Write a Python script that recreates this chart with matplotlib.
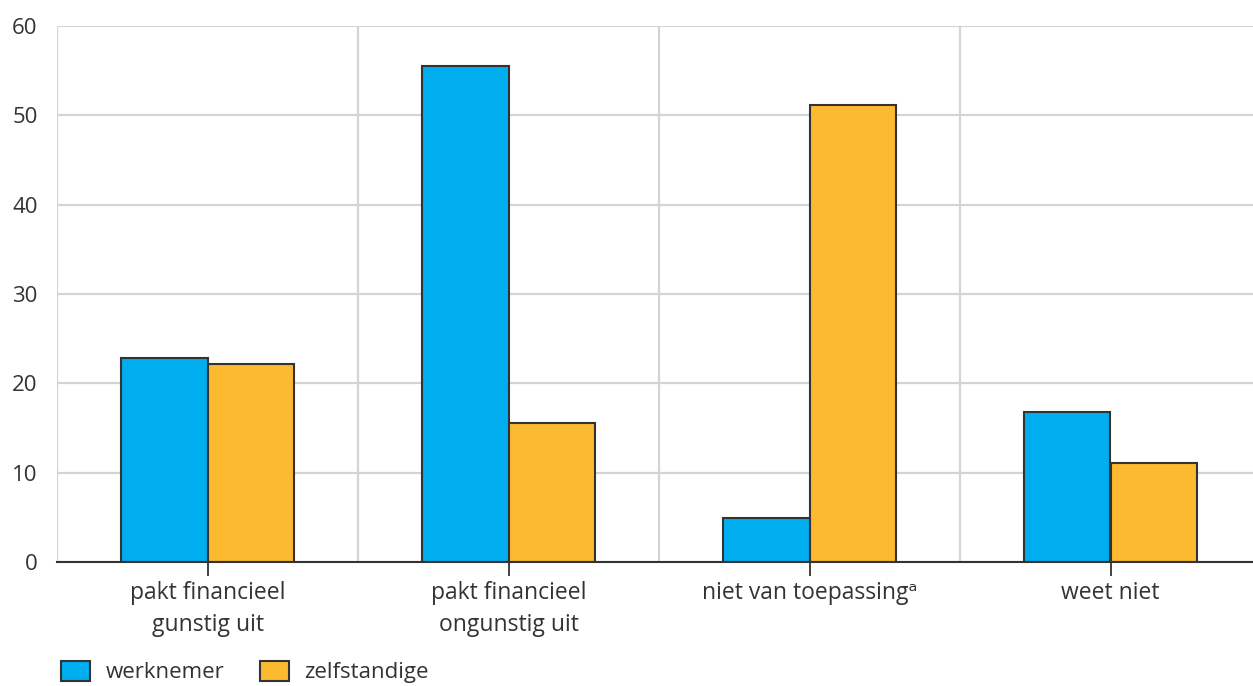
import matplotlib.pyplot as plt
import numpy as np

categories = ["pakt financieel\ngunstig uit", "pakt financieel\nongunstig uit",
              "niet van toepassing\u1d43", "weet niet"]
werknemer = [22.8, 55.5, 4.9, 16.8]
zelfstandige = [22.2, 15.6, 51.2, 11.1]
series_names = ["werknemer", "zelfstandige"]
yticks = [0, 10, 20, 30, 40, 50, 60]

blue = "#00AEEF"
orange = "#FBBA30"
dark = "#333333"
grid = "#d4d4d4"

plt.rcParams["font.family"] = ["Open Sans", "DejaVu Sans"]

fig = plt.figure(figsize=(12.53, 6.86), dpi=100)
ax = fig.add_axes([57 / 1253, 1 - 562 / 686, 1 - 57 / 1253, (562 - 26) / 686])

x = np.arange(len(categories))
w = 0.288
b1 = ax.bar(x - w / 2, werknemer, w, color=blue, edgecolor=dark, linewidth=1.5,
            label=series_names[0], zorder=3)
b2 = ax.bar(x + w / 2, zelfstandige, w, color=orange, edgecolor=dark, linewidth=1.5,
            label=series_names[1], zorder=3)

ax.set_xlim(-0.5, -0.5 + (1253 - 57) / 301)
ax.set_ylim(0, 60)
ax.set_yticks(yticks)
ax.set_yticklabels([str(v) for v in yticks])
ax.set_xticks(x)
ax.set_xticklabels(categories, color=dark, fontsize=16.5, linespacing=1.4)

# horizontal grid and category separators
ax.grid(axis="y", color=grid, linewidth=1.6, zorder=0)
for sep in np.arange(-0.5, len(categories), 1.0):
    ax.axvline(sep, color=grid, linewidth=1.6, zorder=0)

for s in ["top", "right", "left"]:
    ax.spines[s].set_visible(False)
ax.spines["bottom"].set_color(dark)
ax.spines["bottom"].set_linewidth(1.5)
ax.spines["bottom"].set_zorder(4)

ax.tick_params(axis="x", length=10, width=1.3, color=dark, pad=4)
ax.tick_params(axis="y", length=0, pad=14, labelsize=16, labelcolor=dark)
for lbl in ax.get_yticklabels():
    lbl.set_verticalalignment("center_baseline")

fig.legend(handles=[b1, b2], labels=series_names, loc="upper left",
           bbox_to_anchor=(52 / 1253, 1 - 652 / 686), ncol=2, frameon=False,
           fontsize=16, handlelength=1.3, handleheight=1.0, columnspacing=1.6,
           handletextpad=0.7, labelcolor=dark, borderaxespad=0)

fig.savefig("out.png", dpi=100)
